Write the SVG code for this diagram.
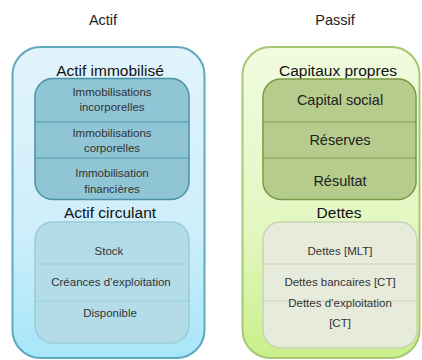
<svg xmlns="http://www.w3.org/2000/svg" width="422" height="360" viewBox="0 0 422 360">
<defs>
<linearGradient id="gBlue" x1="0" y1="0" x2="0" y2="1">
<stop offset="0" stop-color="#e2f4fb"/><stop offset="0.6" stop-color="#cdeefa"/><stop offset="1" stop-color="#a6e6f9"/>
</linearGradient>
<linearGradient id="gGreen" x1="0" y1="0" x2="0" y2="1">
<stop offset="0" stop-color="#f1fbe0"/><stop offset="0.6" stop-color="#e2f7c0"/><stop offset="1" stop-color="#c9ef8a"/>
</linearGradient>
<style>
text{font-family:"Liberation Sans",Arial,sans-serif;text-anchor:middle;fill:#222}
.title{font-size:14.5px}
.h{font-size:15.5px;fill:#111}
.s{font-size:11.5px;fill:#333}
.m{font-size:14.5px;fill:#222}
.div1{stroke:#4f97ab;stroke-width:1.2}
.div2{stroke:#9ccbd8;stroke-width:1.2}
.div3{stroke:#7f9c52;stroke-width:1.2}
.div4{stroke:#cdd5b8;stroke-width:1.2}
</style>
</defs>
<rect width="422" height="360" fill="#ffffff"/>
<g id="actif">
<text class="title" x="103" y="25">Actif</text>
<rect x="12.5" y="47" width="192" height="311" rx="28" fill="url(#gBlue)" stroke="#5fa9bf" stroke-width="2"/>
</g>
<g id="actif-immobilise">
<text class="h" x="110" y="76">Actif immobilisé</text>
<rect x="35" y="78.5" width="154" height="121" rx="18" fill="#8fc5d5" stroke="#4a92a7" stroke-width="1.5"/>
<line class="div1" x1="35" y1="122" x2="189" y2="122"/>
<line class="div1" x1="35" y1="158" x2="189" y2="158"/>
<text class="s" x="112" y="96">Immobilisations</text>
<text class="s" x="112" y="111">incorporelles</text>
<text class="s" x="112" y="137">Immobilisations</text>
<text class="s" x="112" y="152">corporelles</text>
<text class="s" x="112" y="177">Immobilisation</text>
<text class="s" x="112" y="193">financières</text>
</g>
<g id="actif-circulant">
<text class="h" x="110" y="218">Actif circulant</text>
<rect x="35" y="222" width="154" height="121" rx="18" fill="#b4dce8" stroke="#9bcad8" stroke-width="1.5"/>
<line class="div2" x1="35" y1="264" x2="189" y2="264"/>
<line class="div2" x1="35" y1="301" x2="189" y2="301"/>
<text class="s" x="109" y="255">Stock</text>
<text class="s" x="111" y="286">Créances d’exploitation</text>
<text class="s" x="110" y="317">Disponible</text>
</g>
<g id="passif">
<text class="title" x="335" y="25">Passif</text>
<rect x="242.5" y="47" width="177" height="311" rx="28" fill="url(#gGreen)" stroke="#a7c873" stroke-width="2"/>
</g>
<g id="capitaux-propres">
<text class="h" x="338" y="76">Capitaux propres</text>
<rect x="263" y="79" width="153" height="120.5" rx="18" fill="#b6cc8c" stroke="#789a46" stroke-width="1.5"/>
<line class="div3" x1="263" y1="122" x2="416" y2="122"/>
<line class="div3" x1="263" y1="158" x2="416" y2="158"/>
<text class="m" x="340" y="105">Capital social</text>
<text class="m" x="340" y="145">Réserves</text>
<text class="m" x="340" y="186">Résultat</text>
</g>
<g id="dettes">
<text class="h" x="339" y="218">Dettes</text>
<rect x="263" y="222" width="154" height="126" rx="18" fill="#e7ebdb" stroke="#c9d3b2" stroke-width="1.5"/>
<line class="div4" x1="263" y1="264" x2="417" y2="264"/>
<line class="div4" x1="263" y1="301" x2="417" y2="301"/>
<text class="s" x="340" y="255">Dettes [MLT]</text>
<text class="s" x="340" y="286">Dettes bancaires [CT]</text>
<text class="s" x="340" y="307">Dettes d’exploitation</text>
<text class="s" x="340" y="327">[CT]</text>
</g>
</svg>
